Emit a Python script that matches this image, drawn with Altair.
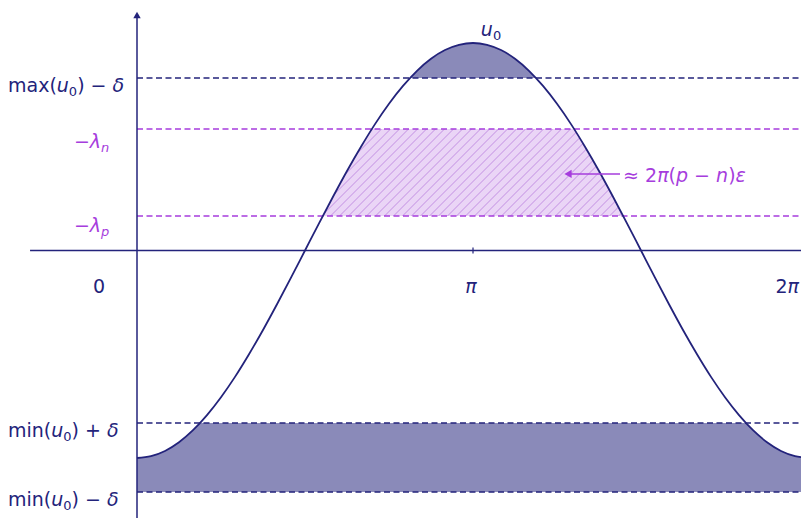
import numpy as np
import pandas as pd
import altair as alt

# ---------------- data ----------------
# u0(x) sampled at x = k*pi/24, k = 0..48 (curve reads as a smooth bump: min at 0 and 2pi, max at pi)
U0 = [-1.000, -0.991, -0.966, -0.924, -0.866, -0.793, -0.707, -0.609, -0.500, -0.383,
      -0.259, -0.131, 0.000, 0.131, 0.259, 0.383, 0.500, 0.609, 0.707, 0.793,
      0.866, 0.924, 0.966, 0.991, 1.000, 0.991, 0.966, 0.924, 0.866, 0.793,
      0.707, 0.609, 0.500, 0.383, 0.259, 0.131, 0.000, -0.131, -0.259, -0.383,
      -0.500, -0.609, -0.707, -0.793, -0.866, -0.924, -0.966, -0.991, -1.000]
X = [k * np.pi / 24 for k in range(len(U0))]

# horizontal reference levels
LEVEL_NAMES = ["max(u0)-delta", "-lambda_n", "-lambda_p", "min(u0)+delta", "min(u0)-delta"]
LEVEL_VALUES = [0.831, 0.586, 0.166, -0.831, -1.164]
MAX_D, LAM_N, LAM_P, MIN_PD, MIN_MD = LEVEL_VALUES

# x tick positions
TICKS = [np.pi, 2 * np.pi]

# text labels, as (text, italic, subscript) pieces
LABEL_PIECES = [
    [("max(", 0, 0), ("u", 1, 0), ("0", 0, 1), (") − ", 0, 0), ("δ", 1, 0)],
    [("min(", 0, 0), ("u", 1, 0), ("0", 0, 1), (") + ", 0, 0), ("δ", 1, 0)],
    [("min(", 0, 0), ("u", 1, 0), ("0", 0, 1), (") − ", 0, 0), ("δ", 1, 0)],
    [("−", 0, 0), ("λ", 1, 0), ("n", 1, 1)],
    [("−", 0, 0), ("λ", 1, 0), ("p", 1, 1)],
    [("0", 0, 0)],
    [("π", 1, 0)],
    [("2", 0, 0), ("π", 1, 0)],
    [("u", 1, 0), ("0", 0, 1)],
    [("≈ 2", 0, 0), ("π", 1, 0), ("(", 0, 0), ("p", 1, 0), (" − ", 0, 0), ("n", 1, 0), (")", 0, 0), ("ε", 1, 0)],
]

# ---------------- styling / layout ----------------
NAVY = "#23237b"
PURPLE = "#a63ddd"
DARK_FILL = "#8a8ab9"
HATCH_BG = "#ead5f6"
HATCH_LN = "#d6b2ec"
FONT = "DejaVu Sans"
FS, FS_SUB, SUB_DY = 19, 13, 4

W_PX, H_PX = 793, 510
PX_PER_X = 672 / (2 * np.pi)
XMIN, XMAX = -129 / PX_PER_X, (W_PX - 129) / PX_PER_X
YMAX = 242.5 / 207.5
YMIN = YMAX - H_PX / 207.5

xs = alt.Scale(domain=[XMIN, XMAX], nice=False, zero=False)
ys = alt.Scale(domain=[YMIN, YMAX], nice=False, zero=False)

# DejaVu Sans advance widths (em)
ADV = {"m": 0.974, "a": 0.613, "x": 0.592, "(": 0.390, ")": 0.390, "u": 0.634, " ": 0.318,
       "−": 0.838, "+": 0.838, "δ": 0.612, "i": 0.278, "n": 0.634, "0": 0.636, "2": 0.636,
       "π": 0.603, "λ": 0.592, "p": 0.635, "ε": 0.541, "≈": 0.838}


def band(lo, hi):
    """Region between level lo and the curve clipped to [lo, hi]."""
    pts = []
    for i in range(len(X)):
        if i > 0:
            xa, ua, xb, ub = X[i - 1], U0[i - 1], X[i], U0[i]
            for lev in (lo, hi):
                if (ua - lev) * (ub - lev) < 0:
                    t = (lev - ua) / (ub - ua)
                    pts.append((xa + t * (xb - xa), lev))
        pts.append((X[i], U0[i]))
    pts.sort()
    rows = [dict(x=x, top=min(max(u, lo), hi), bot=lo) for x, u in pts if u >= lo - 1e-9]
    return pd.DataFrame(rows)


def area_layer(df, fill):
    return alt.Chart(df).mark_area(fill=fill, opacity=1, strokeWidth=0).encode(
        x=alt.X("x:Q", scale=xs, axis=None),
        y=alt.Y("top:Q", scale=ys, axis=None),
        y2="bot:Q",
    )


bottom_df = band(MIN_MD, MIN_PD)
top_df = band(MAX_D, 10.0)
hatch_df = band(LAM_P, LAM_N)

# diagonal hatch via a striped linear gradient in the bounding box of the region
bw = (hatch_df.x.max() - hatch_df.x.min()) * PX_PER_X
bh = (LAM_N - LAM_P) * 207.5
span = bw + bh
ga = span * bw / (bw ** 2 + bh ** 2)
stops = [alt.GradientStop(color=HATCH_BG, offset=0)]
pos, period, lw = 4.0, 9.0, 1.5
while pos + lw < span:
    t0, t1 = pos / span, (pos + lw) / span
    stops += [alt.GradientStop(color=HATCH_BG, offset=t0), alt.GradientStop(color=HATCH_LN, offset=t0),
              alt.GradientStop(color=HATCH_LN, offset=t1), alt.GradientStop(color=HATCH_BG, offset=t1)]
    pos += period
stops.append(alt.GradientStop(color=HATCH_BG, offset=1))
hatch_fill = alt.Gradient(gradient="linear", stops=stops, x1=0, y1=0, x2=ga, y2=ga * bh / bw)

layers = [
    area_layer(bottom_df, DARK_FILL),
    area_layer(top_df, DARK_FILL),
    area_layer(hatch_df, hatch_fill),
]

# dashed levels
lev_df = pd.DataFrame({
    "name": LEVEL_NAMES, "y": LEVEL_VALUES,
    "x0": [0.0] * 5, "x1": [2 * np.pi] * 5,
    "c": [NAVY, PURPLE, PURPLE, NAVY, NAVY],
})
layers.append(
    alt.Chart(lev_df).mark_rule(strokeDash=[6, 3.5], strokeWidth=1.5).encode(
        x=alt.X("x0:Q", scale=xs, axis=None), x2="x1:Q",
        y=alt.Y("y:Q", scale=ys, axis=None),
        color=alt.Color("c:N", scale=None),
    )
)

# axes
axes_df = pd.DataFrame({"x": [-1.0, 0.0], "x2": [2 * np.pi, 0.0], "y": [0.0, YMIN], "y2": [0.0, 1.14]})
layers.append(
    alt.Chart(axes_df).mark_rule(color=NAVY, strokeWidth=1.5).encode(
        x=alt.X("x:Q", scale=xs, axis=None), x2="x2:Q",
        y=alt.Y("y:Q", scale=ys, axis=None), y2="y2:Q",
    )
)
tick_df = pd.DataFrame({"x": TICKS, "y": [-0.014] * 2, "y2": [0.014] * 2})
layers.append(
    alt.Chart(tick_df).mark_rule(color=NAVY, strokeWidth=1.2).encode(
        x=alt.X("x:Q", scale=xs, axis=None),
        y=alt.Y("y:Q", scale=ys, axis=None), y2="y2:Q",
    )
)
arrow_df = pd.DataFrame({"x": [0.0, 2 * np.pi], "y": [1.135, 0.0], "s": ["triangle-up", "triangle-right"]})
layers.append(
    alt.Chart(arrow_df).mark_point(filled=True, color=NAVY, opacity=1, size=55).encode(
        x=alt.X("x:Q", scale=xs, axis=None),
        y=alt.Y("y:Q", scale=ys, axis=None),
        shape=alt.Shape("s:N", scale=None),
    )
)

# the curve
curve_df = pd.DataFrame({"x": X, "u": U0})
layers.append(
    alt.Chart(curve_df).mark_line(color=NAVY, strokeWidth=1.8, interpolate="monotone").encode(
        x=alt.X("x:Q", scale=xs, axis=None),
        y=alt.Y("u:Q", scale=ys, axis=None),
    )
)

# annotation arrow
ann_df = pd.DataFrame({"x": [4.03], "x2": [4.516], "y": [0.369]})
layers.append(
    alt.Chart(ann_df).mark_rule(color=PURPLE, strokeWidth=1.6).encode(
        x=alt.X("x:Q", scale=xs, axis=None), x2="x2:Q",
        y=alt.Y("y:Q", scale=ys, axis=None),
    )
)
layers.append(
    alt.Chart(ann_df).mark_point(shape="triangle-left", filled=True, color=PURPLE, opacity=1, size=70).encode(
        x=alt.X("x:Q", scale=xs, axis=None),
        y=alt.Y("y:Q", scale=ys, axis=None),
    )
)

# label placement: (x, y, align of whole label, colour)
LABEL_LAYOUT = [
    (-1.206, 0.764, "left", NAVY),
    (-1.206, -0.899, "left", NAVY),
    (-1.206, -1.231, "left", NAVY),
    (-0.590, 0.494, "left", PURPLE),
    (-0.590, 0.089, "left", PURPLE),
    (-0.355, -0.205, "center", NAVY),
    (3.123, -0.205, "center", NAVY),
    (5.970, -0.205, "left", NAVY),
    (3.215, 1.034, "left", NAVY),
    (4.545, 0.329, "left", PURPLE),
]


def piece_width(txt, sub):
    return sum(ADV.get(ch, 0.6) for ch in txt) * (FS_SUB if sub else FS)


for pieces, (lx, ly, al, col) in zip(LABEL_PIECES, LABEL_LAYOUT):
    total = sum(piece_width(t, s) for t, _, s in pieces)
    off = -total / 2 if al == "center" else 0.0
    for txt, it, sub in pieces:
        shown = txt.strip()
        lead = piece_width(txt[: len(txt) - len(txt.lstrip())], sub)
        df = pd.DataFrame({"x": [lx], "y": [ly], "t": [shown]})
        layers.append(
            alt.Chart(df).mark_text(align="left", baseline="alphabetic", font=FONT,
                                    fontSize=FS_SUB if sub else FS,
                                    fontStyle="italic" if it else "normal", color=col,
                                    dx=off + lead, dy=SUB_DY if sub else 0).encode(
                x=alt.X("x:Q", scale=xs, axis=None),
                y=alt.Y("y:Q", scale=ys, axis=None),
                text="t:N",
            )
        )
        off += piece_width(txt, sub)

chart = alt.layer(*layers).properties(
    width=W_PX, height=H_PX, padding=0,
    autosize=alt.AutoSizeParams(type="none"),
    background="white",
).configure_view(stroke=None)

chart.save("out.html", embed_options={"renderer": "svg", "actions": False})
